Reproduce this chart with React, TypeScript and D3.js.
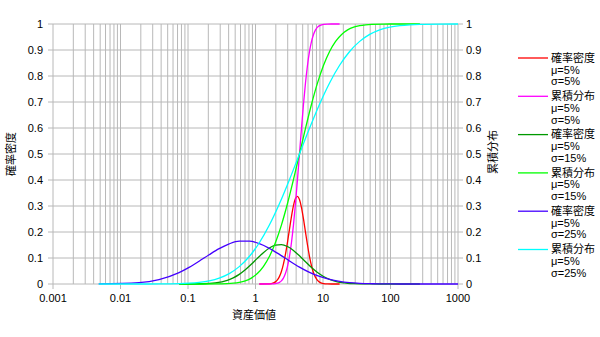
import React from "react";
import * as d3 from "d3";

// ---- data ----
const xTickValues = [0.001, 0.01, 0.1, 1, 10, 100, 1000];
const xTickLabels = ["0.001", "0.01", "0.1", "1", "10", "100", "1000"];
const yTickValues = [0, 0.1, 0.2, 0.3, 0.4, 0.5, 0.6, 0.7, 0.8, 0.9, 1];
const yTickLabels = ["0", "0.1", "0.2", "0.3", "0.4", "0.5", "0.6", "0.7", "0.8", "0.9", "1"];

// σ=5%
const xS5 = [1.1397, 1.4987, 1.7186, 1.9707, 2.1104, 2.2599, 2.42, 2.5917, 2.7752, 2.9719, 3.1826, 3.408, 3.6497, 3.9084, 4.185, 4.4817, 4.7995, 5.1393, 5.5036, 5.8937, 6.3117, 6.759, 7.2382, 7.7502, 8.2998, 8.8883, 9.5176, 10.192, 11.687, 13.402, 17.625];
const pdfS5 = [0.000005, 0.00033, 0.00185, 0.00821, 0.01573, 0.02832, 0.04789, 0.07607, 0.11352, 0.15914, 0.20956, 0.25926, 0.30129, 0.32893, 0.33738, 0.32504, 0.29418, 0.25015, 0.1998, 0.14992, 0.10567, 0.06997, 0.04353, 0.02544, 0.01396, 0.0072, 0.00349, 0.00159, 0.00027, 0.00004, 0];
const cdfS5 = [0.0000003, 0.00003, 0.00023, 0.00135, 0.00298, 0.00621, 0.01222, 0.02275, 0.04006, 0.06681, 0.10565, 0.15866, 0.22663, 0.30854, 0.40129, 0.5, 0.59871, 0.69146, 0.77337, 0.84134, 0.89435, 0.93319, 0.95994, 0.97725, 0.98778, 0.99379, 0.99702, 0.99865, 0.99977, 0.99997, 1];

// σ=15%
const xS15 = [0.07366, 0.16759, 0.2527, 0.3811, 0.46801, 0.57465, 0.7057, 0.86658, 1.06418, 1.30684, 1.60478, 1.97077, 2.42007, 2.9719, 3.6495, 4.4817, 5.5036, 6.7585, 8.2995, 10.193, 12.516, 15.37, 18.874, 23.178, 28.464, 34.953, 42.918, 52.705, 79.48, 119.86, 272.6];
const pdfS15 = [0.000025, 0.00097, 0.00419, 0.01415, 0.02364, 0.03713, 0.05474, 0.07583, 0.09868, 0.12063, 0.13853, 0.14944, 0.15146, 0.14419, 0.12896, 0.10835, 0.08551, 0.06341, 0.04416, 0.02889, 0.01776, 0.01026, 0.00556, 0.00284, 0.00136, 0.00061, 0.00026, 0.0001, 0.00001, 0, 0];
const cdfS15 = [0.0000003, 0.00003, 0.00023, 0.00135, 0.00298, 0.00621, 0.01222, 0.02275, 0.04006, 0.06681, 0.10565, 0.15866, 0.22663, 0.30854, 0.40129, 0.5, 0.59871, 0.69146, 0.77337, 0.84134, 0.89435, 0.93319, 0.95994, 0.97725, 0.98778, 0.99379, 0.99702, 0.99865, 0.99977, 0.99997, 1];

// σ=25%
const xS25 = [0.004765, 0.018737, 0.037158, 0.07369, 0.10377, 0.14613, 0.20578, 0.28978, 0.40808, 0.57467, 0.80925, 1.13962, 1.60483, 2.25995, 3.18253, 4.48169, 6.31103, 8.88782, 12.5158, 17.6247, 24.82, 34.951, 49.22, 69.311, 97.607, 137.45, 193.56, 272.6, 540.55, 1000];
const pdfS25 = [0.00023, 0.00522, 0.0171, 0.0439, 0.06397, 0.08761, 0.11264, 0.13606, 0.15441, 0.1646, 0.16483, 0.15506, 0.13704, 0.11377, 0.08873, 0.06501, 0.04474, 0.02893, 0.01757, 0.01003, 0.00537, 0.00271, 0.00128, 0.00057, 0.00024, 0.00009, 0.00003, 0.00001, 0, 0];
const cdfS25 = [0.0000003, 0.00003, 0.00023, 0.00135, 0.00298, 0.00621, 0.01222, 0.02275, 0.04006, 0.06681, 0.10565, 0.15866, 0.22663, 0.30854, 0.40129, 0.5, 0.59871, 0.69146, 0.77337, 0.84134, 0.89435, 0.93319, 0.95994, 0.97725, 0.98778, 0.99379, 0.99702, 0.99865, 0.99977, 0.99996];

const seriesNames = ["確率密度", "累積分布", "確率密度", "累積分布", "確率密度", "累積分布"];
const seriesMu = ["μ=5%", "μ=5%", "μ=5%", "μ=5%", "μ=5%", "μ=5%"];
const seriesSigma = ["σ=5%", "σ=5%", "σ=15%", "σ=15%", "σ=25%", "σ=25%"];
const seriesColors = ["#ff0000", "#ff00ff", "#009900", "#00ff00", "#4400ff", "#00ffff"];
const seriesX = [xS5, xS5, xS15, xS15, xS25, xS25];
const seriesY = [pdfS5, cdfS5, pdfS15, cdfS15, pdfS25, cdfS25];

const W = 600;
const H = 337;
const left = 53;
const right = 458;
const top = 24;
const bottom = 284;
const font = "'Liberation Sans', Arial, 'Noto Sans CJK JP', sans-serif";
const gridColor = "#b8b8b8";

export default function App() {
  const x = d3.scaleLog().domain([0.001, 1000]).range([left, right]);
  const y = d3.scaleLinear().domain([0, 1]).range([bottom, top]);

  const minorX: number[] = [];
  for (let e = -3; e < 3; e++) {
    for (let m = 1; m <= 9; m++) minorX.push(m * Math.pow(10, e));
  }
  minorX.push(1000);

  const line = d3
    .line<[number, number]>()
    .x((d) => x(d[0]))
    .y((d) => y(d[1]))
    .curve(d3.curveMonotoneX);

  const legendTop = 58;
  const legendStep = 38.3;
  const lineH = 11.7;

  return (
    <svg
      width={W}
      height={H}
      style={{ position: "absolute", left: 0, top: 0, background: "#fff" }}
      fontFamily={font}
    >
      <defs>
        <clipPath id="plot">
          <rect x={left} y={top - 2} width={right - left} height={bottom - top + 3} />
        </clipPath>
      </defs>
      {/* vertical grid */}
      {minorX.map((v, i) => (
        <line key={"vx" + i} x1={x(v)} x2={x(v)} y1={top} y2={bottom} stroke={gridColor} strokeWidth={1} />
      ))}
      {/* horizontal grid */}
      {yTickValues.map((v, i) => (
        <line key={"hy" + i} x1={left} x2={right} y1={y(v)} y2={y(v)} stroke={gridColor} strokeWidth={1} />
      ))}
      {/* ticks */}
      {yTickValues.map((v, i) => (
        <g key={"yt" + i}>
          <line x1={left - 5} x2={left} y1={y(v)} y2={y(v)} stroke={gridColor} />
          <line x1={right} x2={right + 5} y1={y(v)} y2={y(v)} stroke={gridColor} />
          <text x={left - 10} y={y(v)} dy="0.35em" textAnchor="end" fontSize={11} fill="#000">
            {yTickLabels[i]}
          </text>
          <text x={right + 8} y={y(v)} dy="0.35em" textAnchor="start" fontSize={11} fill="#000">
            {yTickLabels[i]}
          </text>
        </g>
      ))}
      {xTickValues.map((v, i) => (
        <g key={"xt" + i}>
          <line x1={x(v)} x2={x(v)} y1={bottom} y2={bottom + 5} stroke={gridColor} />
          <text x={x(v)} y={bottom + 18} textAnchor="middle" fontSize={11} fill="#000">
            {xTickLabels[i]}
          </text>
        </g>
      ))}
      {/* curves */}
      <g clipPath="url(#plot)">
        {seriesX.map((xs, si) => {
          const pts: [number, number][] = xs.map((xv, j) => [xv, seriesY[si][j]]);
          return (
            <path
              key={"s" + si}
              d={line(pts) || ""}
              fill="none"
              stroke={seriesColors[si]}
              strokeWidth={1.3}
            />
          );
        })}
      </g>
      {/* axis titles */}
      <text x={254} y={319} textAnchor="middle" fontSize={11} fill="#000">
        資産価値
      </text>
      <text
        transform={`translate(15,154) rotate(-90)`}
        textAnchor="middle"
        fontSize={11}
        fill="#000"
      >
        確率密度
      </text>
      <text
        transform={`translate(497,152) rotate(-90)`}
        textAnchor="middle"
        fontSize={11}
        fill="#000"
      >
        累積分布
      </text>
      {/* legend */}
      {seriesNames.map((nm, i) => {
        const ly = legendTop + i * legendStep;
        return (
          <g key={"lg" + i}>
            <line x1={518} x2={548} y1={ly} y2={ly} stroke={seriesColors[i]} strokeWidth={1.3} />
            <text x={551} y={ly} dy="0.35em" fontSize={11} fill="#000">
              {nm}
            </text>
            <text x={551} y={ly + lineH} dy="0.35em" fontSize={11} fill="#000">
              {seriesMu[i]}
            </text>
            <text x={551} y={ly + 2 * lineH} dy="0.35em" fontSize={11} fill="#000">
              {seriesSigma[i]}
            </text>
          </g>
        );
      })}
    </svg>
  );
}
